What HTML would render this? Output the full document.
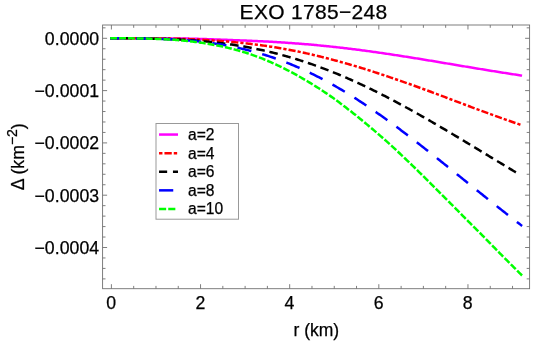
<!DOCTYPE html>
<html><head><meta charset="utf-8"><style>
html,body{margin:0;padding:0;background:#fff;}
svg{display:block;will-change:transform;font-family:"Liberation Sans",sans-serif;}
text{fill:#000;stroke:#000;stroke-width:0.25px;}
</style></head><body>
<svg width="556" height="346" viewBox="0 0 556 346">
<rect width="556" height="346" fill="#fff"/>
<g stroke-linecap="butt" stroke-linejoin="round">
<polyline points="110.20,38.30 111.40,38.30 112.77,38.30 114.15,38.30 115.52,38.30 116.89,38.30 118.27,38.30 119.64,38.30 121.02,38.30 122.39,38.30 123.76,38.30 125.14,38.30 126.51,38.30 127.88,38.30 129.26,38.31 130.63,38.31 132.00,38.31 133.38,38.31 134.75,38.31 136.12,38.31 137.50,38.31 138.87,38.31 140.25,38.32 141.62,38.32 142.99,38.32 144.37,38.32 145.74,38.33 147.11,38.33 148.49,38.33 149.86,38.34 151.23,38.34 152.61,38.34 153.98,38.35 155.35,38.35 156.73,38.36 158.10,38.36 159.48,38.37 160.85,38.37 162.22,38.38 163.60,38.39 164.97,38.39 166.34,38.40 167.72,38.41 169.09,38.42 170.46,38.42 171.84,38.43 173.21,38.44 174.58,38.45 175.96,38.46 177.33,38.47 178.71,38.48 180.08,38.50 181.45,38.51 182.83,38.53 184.20,38.55 185.57,38.57 186.95,38.59 188.32,38.62 189.69,38.65 191.07,38.68 192.44,38.71 193.81,38.74 195.19,38.77 196.56,38.81 197.94,38.85 199.31,38.89 200.68,38.93 202.06,38.97 203.43,39.01 204.80,39.05 206.18,39.10 207.55,39.14 208.92,39.19 210.30,39.24 211.67,39.29 213.04,39.34 214.42,39.39 215.79,39.44 217.17,39.49 218.54,39.54 219.91,39.60 221.29,39.65 222.66,39.70 224.03,39.76 225.41,39.81 226.78,39.87 228.15,39.92 229.53,39.97 230.90,40.03 232.27,40.08 233.65,40.14 235.02,40.19 236.40,40.25 237.77,40.30 239.14,40.35 240.52,40.41 241.89,40.46 243.26,40.51 244.64,40.56 246.01,40.62 247.38,40.67 248.76,40.72 250.13,40.78 251.51,40.83 252.88,40.89 254.25,40.95 255.63,41.01 257.00,41.07 258.37,41.13 259.75,41.20 261.12,41.26 262.49,41.33 263.87,41.40 265.24,41.47 266.61,41.54 267.99,41.61 269.36,41.69 270.74,41.76 272.11,41.84 273.48,41.92 274.86,42.00 276.23,42.08 277.60,42.16 278.98,42.25 280.35,42.33 281.72,42.42 283.10,42.51 284.47,42.60 285.84,42.69 287.22,42.78 288.59,42.88 289.97,42.97 291.34,43.07 292.71,43.17 294.09,43.27 295.46,43.38 296.83,43.48 298.21,43.59 299.58,43.69 300.95,43.80 302.33,43.91 303.70,44.03 305.07,44.14 306.45,44.26 307.82,44.37 309.20,44.49 310.57,44.61 311.94,44.74 313.32,44.86 314.69,44.99 316.06,45.11 317.44,45.24 318.81,45.37 320.18,45.51 321.56,45.64 322.93,45.78 324.30,45.91 325.68,46.05 327.05,46.19 328.43,46.33 329.80,46.48 331.17,46.62 332.55,46.77 333.92,46.92 335.29,47.07 336.67,47.22 338.04,47.37 339.41,47.53 340.79,47.69 342.16,47.84 343.53,48.00 344.91,48.16 346.28,48.33 347.66,48.49 349.03,48.66 350.40,48.82 351.78,48.99 353.15,49.16 354.52,49.34 355.90,49.51 357.27,49.68 358.64,49.86 360.02,50.04 361.39,50.22 362.76,50.40 364.14,50.58 365.51,50.76 366.89,50.95 368.26,51.13 369.63,51.32 371.01,51.51 372.38,51.70 373.75,51.89 375.13,52.08 376.50,52.28 377.87,52.47 379.25,52.67 380.62,52.87 381.99,53.07 383.37,53.27 384.74,53.47 386.12,53.67 387.49,53.87 388.86,54.08 390.24,54.28 391.61,54.49 392.98,54.70 394.36,54.91 395.73,55.12 397.10,55.33 398.48,55.54 399.85,55.75 401.23,55.96 402.60,56.18 403.97,56.39 405.35,56.61 406.72,56.83 408.09,57.05 409.47,57.26 410.84,57.48 412.21,57.70 413.59,57.92 414.96,58.15 416.33,58.37 417.71,58.59 419.08,58.81 420.46,59.04 421.83,59.26 423.20,59.49 424.58,59.71 425.95,59.94 427.32,60.17 428.70,60.40 430.07,60.62 431.44,60.85 432.82,61.08 434.19,61.31 435.56,61.54 436.94,61.77 438.31,62.00 439.69,62.23 441.06,62.46 442.43,62.69 443.81,62.92 445.18,63.15 446.55,63.39 447.93,63.62 449.30,63.85 450.67,64.08 452.05,64.31 453.42,64.54 454.79,64.77 456.17,65.00 457.54,65.24 458.92,65.47 460.29,65.70 461.66,65.93 463.04,66.16 464.41,66.39 465.78,66.61 467.16,66.84 468.53,67.07 469.90,67.30 471.28,67.53 472.65,67.76 474.02,67.98 475.40,68.21 476.77,68.44 478.15,68.66 479.52,68.89 480.89,69.12 482.27,69.34 483.64,69.56 485.01,69.79 486.39,70.01 487.76,70.24 489.13,70.46 490.51,70.68 491.88,70.90 493.25,71.12 494.63,71.34 496.00,71.56 497.38,71.78 498.75,72.00 500.12,72.22 501.50,72.44 502.87,72.66 504.24,72.87 505.62,73.09 506.99,73.30 508.36,73.52 509.74,73.73 511.11,73.95 512.48,74.16 513.86,74.37 515.23,74.58 516.61,74.80 517.98,75.01 519.35,75.22 520.73,75.42 522.10,75.63" fill="none" stroke="#ff00ff" stroke-width="2.5"/>
<polyline points="110.20,38.30 111.40,38.30 112.77,38.30 114.15,38.30 115.52,38.30 116.89,38.30 118.27,38.30 119.64,38.30 121.02,38.30 122.39,38.30 123.76,38.30 125.14,38.30 126.51,38.31 127.88,38.31 129.26,38.31 130.63,38.31 132.00,38.31 133.38,38.32 134.75,38.32 136.12,38.32 137.50,38.33 138.87,38.33 140.25,38.34 141.62,38.34 142.99,38.35 144.37,38.36 145.74,38.36 147.11,38.37 148.49,38.38 149.86,38.39 151.23,38.40 152.61,38.41 153.98,38.42 155.35,38.44 156.73,38.45 158.10,38.46 159.48,38.48 160.85,38.50 162.22,38.51 163.60,38.53 164.97,38.55 166.34,38.57 167.72,38.59 169.09,38.62 170.46,38.64 171.84,38.67 173.21,38.69 174.58,38.72 175.96,38.75 177.33,38.78 178.71,38.81 180.08,38.85 181.45,38.88 182.83,38.92 184.20,38.97 185.57,39.01 186.95,39.06 188.32,39.11 189.69,39.16 191.07,39.21 192.44,39.27 193.81,39.33 195.19,39.39 196.56,39.46 197.94,39.52 199.31,39.59 200.68,39.66 202.06,39.74 203.43,39.81 204.80,39.89 206.18,39.97 207.55,40.06 208.92,40.14 210.30,40.23 211.67,40.32 213.04,40.42 214.42,40.51 215.79,40.61 217.17,40.71 218.54,40.82 219.91,40.92 221.29,41.03 222.66,41.14 224.03,41.25 225.41,41.37 226.78,41.49 228.15,41.61 229.53,41.73 230.90,41.86 232.27,41.98 233.65,42.11 235.02,42.24 236.40,42.38 237.77,42.52 239.14,42.65 240.52,42.80 241.89,42.94 243.26,43.08 244.64,43.23 246.01,43.38 247.38,43.54 248.76,43.69 250.13,43.85 251.51,44.02 252.88,44.18 254.25,44.35 255.63,44.53 257.00,44.70 258.37,44.88 259.75,45.06 261.12,45.25 262.49,45.44 263.87,45.63 265.24,45.83 266.61,46.03 267.99,46.23 269.36,46.44 270.74,46.65 272.11,46.86 273.48,47.08 274.86,47.30 276.23,47.52 277.60,47.75 278.98,47.98 280.35,48.22 281.72,48.46 283.10,48.70 284.47,48.94 285.84,49.19 287.22,49.44 288.59,49.70 289.97,49.96 291.34,50.22 292.71,50.49 294.09,50.76 295.46,51.03 296.83,51.31 298.21,51.59 299.58,51.87 300.95,52.16 302.33,52.45 303.70,52.75 305.07,53.04 306.45,53.35 307.82,53.65 309.20,53.96 310.57,54.27 311.94,54.59 313.32,54.91 314.69,55.23 316.06,55.56 317.44,55.88 318.81,56.22 320.18,56.55 321.56,56.89 322.93,57.24 324.30,57.58 325.68,57.93 327.05,58.28 328.43,58.64 329.80,59.00 331.17,59.36 332.55,59.72 333.92,60.09 335.29,60.46 336.67,60.83 338.04,61.21 339.41,61.58 340.79,61.96 342.16,62.35 343.53,62.73 344.91,63.12 346.28,63.51 347.66,63.90 349.03,64.30 350.40,64.70 351.78,65.10 353.15,65.50 354.52,65.91 355.90,66.32 357.27,66.73 358.64,67.14 360.02,67.56 361.39,67.98 362.76,68.40 364.14,68.82 365.51,69.25 366.89,69.68 368.26,70.11 369.63,70.55 371.01,70.99 372.38,71.43 373.75,71.87 375.13,72.32 376.50,72.77 377.87,73.22 379.25,73.67 380.62,74.13 381.99,74.58 383.37,75.04 384.74,75.50 386.12,75.96 387.49,76.42 388.86,76.89 390.24,77.36 391.61,77.82 392.98,78.29 394.36,78.76 395.73,79.24 397.10,79.71 398.48,80.18 399.85,80.66 401.23,81.14 402.60,81.62 403.97,82.10 405.35,82.58 406.72,83.07 408.09,83.55 409.47,84.04 410.84,84.53 412.21,85.02 413.59,85.51 414.96,86.01 416.33,86.50 417.71,87.00 419.08,87.50 420.46,87.99 421.83,88.50 423.20,89.00 424.58,89.50 425.95,90.01 427.32,90.51 428.70,91.02 430.07,91.53 431.44,92.04 432.82,92.55 434.19,93.07 435.56,93.58 436.94,94.10 438.31,94.61 439.69,95.13 441.06,95.65 442.43,96.17 443.81,96.68 445.18,97.20 446.55,97.72 447.93,98.24 449.30,98.76 450.67,99.28 452.05,99.80 453.42,100.32 454.79,100.84 456.17,101.36 457.54,101.88 458.92,102.40 460.29,102.92 461.66,103.43 463.04,103.95 464.41,104.47 465.78,104.99 467.16,105.50 468.53,106.02 469.90,106.53 471.28,107.05 472.65,107.56 474.02,108.07 475.40,108.58 476.77,109.09 478.15,109.60 479.52,110.11 480.89,110.62 482.27,111.13 483.64,111.63 485.01,112.14 486.39,112.64 487.76,113.14 489.13,113.65 490.51,114.15 491.88,114.65 493.25,115.15 494.63,115.64 496.00,116.14 497.38,116.64 498.75,117.13 500.12,117.62 501.50,118.12 502.87,118.61 504.24,119.10 505.62,119.58 506.99,120.07 508.36,120.56 509.74,121.04 511.11,121.52 512.48,122.00 513.86,122.48 515.23,122.96 516.61,123.44 517.98,123.91 519.35,124.39 520.73,124.86 522.10,125.33" fill="none" stroke="#ff0000" stroke-width="2.5" stroke-dasharray="3.210 2.057 7.153 2.057"/>
<polyline points="110.20,38.30 111.40,38.30 112.75,38.30 114.11,38.30 115.46,38.30 116.81,38.31 118.16,38.31 119.52,38.31 120.87,38.31 122.22,38.31 123.58,38.32 124.93,38.32 126.28,38.33 127.63,38.33 128.99,38.34 130.34,38.35 131.69,38.35 133.05,38.36 134.40,38.37 135.75,38.38 137.10,38.39 138.46,38.41 139.81,38.42 141.16,38.43 142.52,38.45 143.87,38.47 145.22,38.49 146.57,38.51 147.93,38.53 149.28,38.55 150.63,38.58 151.99,38.60 153.34,38.63 154.69,38.66 156.04,38.69 157.40,38.72 158.75,38.76 160.10,38.80 161.46,38.84 162.81,38.88 164.16,38.92 165.51,38.96 166.87,39.01 168.22,39.06 169.57,39.11 170.93,39.16 172.28,39.22 173.63,39.28 174.98,39.34 176.34,39.40 177.69,39.47 179.04,39.53 180.39,39.61 181.75,39.68 183.10,39.75 184.45,39.83 185.81,39.91 187.16,40.00 188.51,40.09 189.86,40.18 191.22,40.27 192.57,40.36 193.92,40.46 195.28,40.56 196.63,40.67 197.98,40.78 199.33,40.89 200.69,41.00 202.04,41.12 203.39,41.24 204.75,41.37 206.10,41.49 207.45,41.62 208.80,41.76 210.16,41.90 211.51,42.04 212.86,42.18 214.22,42.33 215.57,42.48 216.92,42.64 218.27,42.80 219.63,42.96 220.98,43.13 222.33,43.30 223.69,43.48 225.04,43.66 226.39,43.84 227.74,44.02 229.10,44.22 230.45,44.41 231.80,44.61 233.16,44.81 234.51,45.02 235.86,45.23 237.21,45.44 238.57,45.66 239.92,45.89 241.27,46.11 242.63,46.34 243.98,46.58 245.33,46.82 246.68,47.07 248.04,47.31 249.39,47.57 250.74,47.82 252.10,48.09 253.45,48.35 254.80,48.62 256.15,48.90 257.51,49.18 258.86,49.46 260.21,49.75 261.57,50.05 262.92,50.34 264.27,50.65 265.62,50.95 266.98,51.27 268.33,51.58 269.68,51.90 271.04,52.23 272.39,52.56 273.74,52.89 275.09,53.23 276.45,53.58 277.80,53.93 279.15,54.28 280.51,54.64 281.86,55.00 283.21,55.37 284.56,55.74 285.92,56.12 287.27,56.50 288.62,56.89 289.98,57.28 291.33,57.68 292.68,58.08 294.03,58.48 295.39,58.90 296.74,59.31 298.09,59.73 299.45,60.16 300.80,60.59 302.15,61.02 303.50,61.46 304.86,61.90 306.21,62.35 307.56,62.81 308.92,63.26 310.27,63.73 311.62,64.19 312.97,64.67 314.33,65.14 315.68,65.63 317.03,66.11 318.38,66.60 319.74,67.10 321.09,67.60 322.44,68.11 323.80,68.61 325.15,69.13 326.50,69.65 327.85,70.17 329.21,70.70 330.56,71.23 331.91,71.77 333.27,72.31 334.62,72.86 335.97,73.41 337.32,73.96 338.68,74.52 340.03,75.08 341.38,75.65 342.74,76.23 344.09,76.80 345.44,77.38 346.79,77.97 348.15,78.56 349.50,79.15 350.85,79.75 352.21,80.35 353.56,80.96 354.91,81.57 356.26,82.18 357.62,82.80 358.97,83.42 360.32,84.05 361.68,84.68 363.03,85.32 364.38,85.95 365.73,86.60 367.09,87.24 368.44,87.89 369.79,88.55 371.15,89.20 372.50,89.87 373.85,90.53 375.20,91.20 376.56,91.87 377.91,92.55 379.26,93.22 380.62,93.91 381.97,94.59 383.32,95.28 384.67,95.98 386.03,96.67 387.38,97.37 388.73,98.07 390.09,98.78 391.44,99.49 392.79,100.20 394.14,100.91 395.50,101.63 396.85,102.35 398.20,103.08 399.56,103.81 400.91,104.54 402.26,105.27 403.61,106.00 404.97,106.74 406.32,107.48 407.67,108.23 409.03,108.97 410.38,109.72 411.73,110.47 413.08,111.23 414.44,111.98 415.79,112.74 417.14,113.50 418.50,114.26 419.85,115.03 421.20,115.80 422.55,116.57 423.91,117.34 425.26,118.11 426.61,118.89 427.97,119.67 429.32,120.45 430.67,121.23 432.02,122.01 433.38,122.80 434.73,123.59 436.08,124.37 437.44,125.16 438.79,125.96 440.14,126.75 441.49,127.55 442.85,128.34 444.20,129.14 445.55,129.94 446.91,130.74 448.26,131.54 449.61,132.35 450.96,133.15 452.32,133.96 453.67,134.76 455.02,135.57 456.37,136.38 457.73,137.19 459.08,138.00 460.43,138.81 461.79,139.63 463.14,140.44 464.49,141.25 465.84,142.07 467.20,142.88 468.55,143.70 469.90,144.52 471.26,145.33 472.61,146.15 473.96,146.97 475.31,147.79 476.67,148.61 478.02,149.43 479.37,150.25 480.73,151.07 482.08,151.89 483.43,152.71 484.78,153.53 486.14,154.35 487.49,155.17 488.84,155.99 490.20,156.81 491.55,157.63 492.90,158.45 494.25,159.27 495.61,160.09 496.96,160.91 498.31,161.73 499.67,162.55 501.02,163.37 502.37,164.19 503.72,165.01 505.08,165.82 506.43,166.64 507.78,167.46 509.14,168.27 510.49,169.09 511.84,169.90 513.19,170.72 514.55,171.53 515.90,172.34" fill="none" stroke="#000000" stroke-width="2.5" stroke-dasharray="8.574 4.776"/>
<polyline points="110.20,38.30 111.40,38.30 112.77,38.30 114.15,38.30 115.52,38.30 116.89,38.30 118.27,38.30 119.64,38.31 121.02,38.31 122.39,38.31 123.76,38.31 125.14,38.32 126.51,38.32 127.88,38.33 129.26,38.33 130.63,38.34 132.00,38.35 133.38,38.36 134.75,38.37 136.12,38.38 137.50,38.39 138.87,38.41 140.25,38.42 141.62,38.44 142.99,38.46 144.37,38.48 145.74,38.50 147.11,38.53 148.49,38.55 149.86,38.58 151.23,38.61 152.61,38.65 153.98,38.68 155.35,38.72 156.73,38.76 158.10,38.80 159.48,38.84 160.85,38.89 162.22,38.94 163.60,38.99 164.97,39.04 166.34,39.10 167.72,39.16 169.09,39.22 170.46,39.29 171.84,39.36 173.21,39.43 174.58,39.51 175.96,39.59 177.33,39.67 178.71,39.76 180.08,39.85 181.45,39.94 182.83,40.04 184.20,40.14 185.57,40.25 186.95,40.35 188.32,40.47 189.69,40.59 191.07,40.71 192.44,40.83 193.81,40.96 195.19,41.10 196.56,41.24 197.94,41.38 199.31,41.53 200.68,41.68 202.06,41.84 203.43,42.00 204.80,42.17 206.18,42.34 207.55,42.52 208.92,42.70 210.30,42.89 211.67,43.08 213.04,43.28 214.42,43.48 215.79,43.69 217.17,43.90 218.54,44.12 219.91,44.34 221.29,44.57 222.66,44.80 224.03,45.04 225.41,45.29 226.78,45.54 228.15,45.80 229.53,46.06 230.90,46.33 232.27,46.60 233.65,46.88 235.02,47.17 236.40,47.46 237.77,47.76 239.14,48.06 240.52,48.37 241.89,48.68 243.26,49.01 244.64,49.33 246.01,49.67 247.38,50.01 248.76,50.36 250.13,50.71 251.51,51.07 252.88,51.44 254.25,51.81 255.63,52.19 257.00,52.58 258.37,52.97 259.75,53.37 261.12,53.78 262.49,54.19 263.87,54.61 265.24,55.04 266.61,55.48 267.99,55.92 269.36,56.37 270.74,56.82 272.11,57.28 273.48,57.75 274.86,58.23 276.23,58.71 277.60,59.20 278.98,59.70 280.35,60.21 281.72,60.72 283.10,61.24 284.47,61.76 285.84,62.29 287.22,62.83 288.59,63.38 289.97,63.94 291.34,64.50 292.71,65.07 294.09,65.64 295.46,66.23 296.83,66.82 298.21,67.41 299.58,68.02 300.95,68.63 302.33,69.25 303.70,69.87 305.07,70.50 306.45,71.14 307.82,71.79 309.20,72.45 310.57,73.11 311.94,73.77 313.32,74.45 314.69,75.13 316.06,75.82 317.44,76.51 318.81,77.22 320.18,77.93 321.56,78.64 322.93,79.37 324.30,80.10 325.68,80.83 327.05,81.58 328.43,82.33 329.80,83.08 331.17,83.85 332.55,84.62 333.92,85.39 335.29,86.18 336.67,86.97 338.04,87.76 339.41,88.56 340.79,89.37 342.16,90.19 343.53,91.01 344.91,91.84 346.28,92.67 347.66,93.51 349.03,94.36 350.40,95.21 351.78,96.07 353.15,96.93 354.52,97.80 355.90,98.67 357.27,99.56 358.64,100.44 360.02,101.33 361.39,102.23 362.76,103.14 364.14,104.04 365.51,104.96 366.89,105.88 368.26,106.80 369.63,107.73 371.01,108.67 372.38,109.61 373.75,110.55 375.13,111.50 376.50,112.46 377.87,113.42 379.25,114.38 380.62,115.35 381.99,116.32 383.37,117.30 384.74,118.28 386.12,119.27 387.49,120.26 388.86,121.26 390.24,122.26 391.61,123.26 392.98,124.27 394.36,125.28 395.73,126.29 397.10,127.31 398.48,128.34 399.85,129.36 401.23,130.39 402.60,131.42 403.97,132.46 405.35,133.50 406.72,134.54 408.09,135.59 409.47,136.64 410.84,137.69 412.21,138.75 413.59,139.80 414.96,140.87 416.33,141.93 417.71,142.99 419.08,144.06 420.46,145.13 421.83,146.21 423.20,147.28 424.58,148.36 425.95,149.44 427.32,150.52 428.70,151.60 430.07,152.69 431.44,153.78 432.82,154.87 434.19,155.96 435.56,157.05 436.94,158.14 438.31,159.24 439.69,160.34 441.06,161.43 442.43,162.53 443.81,163.63 445.18,164.73 446.55,165.84 447.93,166.94 449.30,168.04 450.67,169.15 452.05,170.25 453.42,171.36 454.79,172.46 456.17,173.57 457.54,174.68 458.92,175.78 460.29,176.89 461.66,178.00 463.04,179.11 464.41,180.21 465.78,181.32 467.16,182.43 468.53,183.54 469.90,184.64 471.28,185.75 472.65,186.86 474.02,187.96 475.40,189.07 476.77,190.17 478.15,191.28 479.52,192.38 480.89,193.48 482.27,194.59 483.64,195.69 485.01,196.79 486.39,197.89 487.76,198.98 489.13,200.08 490.51,201.18 491.88,202.27 493.25,203.36 494.63,204.45 496.00,205.55 497.38,206.63 498.75,207.72 500.12,208.81 501.50,209.89 502.87,210.97 504.24,212.05 505.62,213.13 506.99,214.21 508.36,215.28 509.74,216.36 511.11,217.43 512.48,218.50 513.86,219.57 515.23,220.63 516.61,221.69 517.98,222.75 519.35,223.81 520.73,224.87 522.10,225.92" fill="none" stroke="#0000ff" stroke-width="2.5" stroke-dasharray="14.292 11.283"/>
<polyline points="110.20,38.30 111.40,38.30 112.77,38.30 114.15,38.30 115.52,38.30 116.89,38.30 118.27,38.30 119.64,38.31 121.02,38.31 122.39,38.31 123.76,38.32 125.14,38.32 126.51,38.33 127.88,38.34 129.26,38.34 130.63,38.35 132.00,38.36 133.38,38.38 134.75,38.39 136.12,38.41 137.50,38.42 138.87,38.44 140.25,38.46 141.62,38.49 142.99,38.51 144.37,38.54 145.74,38.57 147.11,38.60 148.49,38.63 149.86,38.67 151.23,38.71 152.61,38.75 153.98,38.80 155.35,38.85 156.73,38.90 158.10,38.95 159.48,39.01 160.85,39.07 162.22,39.13 163.60,39.20 164.97,39.27 166.34,39.34 167.72,39.42 169.09,39.51 170.46,39.59 171.84,39.68 173.21,39.78 174.58,39.87 175.96,39.98 177.33,40.08 178.71,40.19 180.08,40.31 181.45,40.43 182.83,40.56 184.20,40.69 185.57,40.82 186.95,40.96 188.32,41.10 189.69,41.25 191.07,41.41 192.44,41.57 193.81,41.73 195.19,41.90 196.56,42.08 197.94,42.26 199.31,42.45 200.68,42.64 202.06,42.84 203.43,43.05 204.80,43.26 206.18,43.48 207.55,43.70 208.92,43.93 210.30,44.17 211.67,44.41 213.04,44.66 214.42,44.92 215.79,45.18 217.17,45.45 218.54,45.72 219.91,46.01 221.29,46.30 222.66,46.59 224.03,46.90 225.41,47.21 226.78,47.53 228.15,47.85 229.53,48.19 230.90,48.53 232.27,48.87 233.65,49.23 235.02,49.59 236.40,49.96 237.77,50.34 239.14,50.73 240.52,51.12 241.89,51.52 243.26,51.93 244.64,52.35 246.01,52.78 247.38,53.22 248.76,53.66 250.13,54.12 251.51,54.59 252.88,55.07 254.25,55.56 255.63,56.06 257.00,56.57 258.37,57.09 259.75,57.62 261.12,58.16 262.49,58.71 263.87,59.26 265.24,59.83 266.61,60.40 267.99,60.99 269.36,61.58 270.74,62.18 272.11,62.78 273.48,63.40 274.86,64.02 276.23,64.65 277.60,65.29 278.98,65.94 280.35,66.59 281.72,67.26 283.10,67.94 284.47,68.63 285.84,69.33 287.22,70.03 288.59,70.75 289.97,71.47 291.34,72.20 292.71,72.94 294.09,73.69 295.46,74.44 296.83,75.21 298.21,75.98 299.58,76.75 300.95,77.53 302.33,78.32 303.70,79.12 305.07,79.92 306.45,80.72 307.82,81.53 309.20,82.35 310.57,83.18 311.94,84.01 313.32,84.85 314.69,85.71 316.06,86.57 317.44,87.44 318.81,88.32 320.18,89.20 321.56,90.10 322.93,91.00 324.30,91.92 325.68,92.84 327.05,93.77 328.43,94.71 329.80,95.65 331.17,96.61 332.55,97.58 333.92,98.57 335.29,99.56 336.67,100.57 338.04,101.59 339.41,102.62 340.79,103.65 342.16,104.69 343.53,105.73 344.91,106.78 346.28,107.84 347.66,108.89 349.03,109.95 350.40,111.01 351.78,112.09 353.15,113.17 354.52,114.25 355.90,115.35 357.27,116.45 358.64,117.56 360.02,118.68 361.39,119.80 362.76,120.93 364.14,122.07 365.51,123.21 366.89,124.36 368.26,125.52 369.63,126.67 371.01,127.83 372.38,129.00 373.75,130.17 375.13,131.34 376.50,132.52 377.87,133.71 379.25,134.90 380.62,136.09 381.99,137.29 383.37,138.50 384.74,139.71 386.12,140.93 387.49,142.16 388.86,143.39 390.24,144.63 391.61,145.88 392.98,147.14 394.36,148.40 395.73,149.67 397.10,150.95 398.48,152.24 399.85,153.53 401.23,154.82 402.60,156.12 403.97,157.42 405.35,158.73 406.72,160.04 408.09,161.36 409.47,162.68 410.84,164.01 412.21,165.34 413.59,166.67 414.96,168.01 416.33,169.35 417.71,170.69 419.08,172.04 420.46,173.39 421.83,174.74 423.20,176.10 424.58,177.46 425.95,178.82 427.32,180.19 428.70,181.56 430.07,182.93 431.44,184.30 432.82,185.68 434.19,187.05 435.56,188.42 436.94,189.80 438.31,191.17 439.69,192.55 441.06,193.93 442.43,195.30 443.81,196.68 445.18,198.06 446.55,199.43 447.93,200.81 449.30,202.19 450.67,203.57 452.05,204.95 453.42,206.33 454.79,207.71 456.17,209.10 457.54,210.48 458.92,211.86 460.29,213.25 461.66,214.63 463.04,216.02 464.41,217.40 465.78,218.79 467.16,220.18 468.53,221.57 469.90,222.95 471.28,224.33 472.65,225.71 474.02,227.09 475.40,228.46 476.77,229.84 478.15,231.21 479.52,232.59 480.89,233.96 482.27,235.35 483.64,236.73 485.01,238.12 486.39,239.51 487.76,240.91 489.13,242.32 490.51,243.72 491.88,245.13 493.25,246.53 494.63,247.93 496.00,249.33 497.38,250.72 498.75,252.12 500.12,253.52 501.50,254.91 502.87,256.30 504.24,257.69 505.62,259.08 506.99,260.47 508.36,261.85 509.74,263.23 511.11,264.61 512.48,265.99 513.86,267.37 515.23,268.74 516.61,270.11 517.98,271.48 519.35,272.85 520.73,274.21 522.10,275.57" fill="none" stroke="#00ff00" stroke-width="2.5" stroke-dasharray="6.905 1.973"/>
</g>
<rect x="102.6" y="25.0" width="427.00" height="263.70" fill="none" stroke="#707070" stroke-width="0.9"/>
<g stroke="#707070" stroke-width="0.9">
<line x1="111.40" y1="288.7" x2="111.40" y2="284.2"/>
<line x1="111.40" y1="25.0" x2="111.40" y2="29.5"/>
<line x1="133.69" y1="288.7" x2="133.69" y2="285.9"/>
<line x1="133.69" y1="25.0" x2="133.69" y2="27.8"/>
<line x1="155.97" y1="288.7" x2="155.97" y2="285.9"/>
<line x1="155.97" y1="25.0" x2="155.97" y2="27.8"/>
<line x1="178.25" y1="288.7" x2="178.25" y2="285.9"/>
<line x1="178.25" y1="25.0" x2="178.25" y2="27.8"/>
<line x1="200.54" y1="288.7" x2="200.54" y2="284.2"/>
<line x1="200.54" y1="25.0" x2="200.54" y2="29.5"/>
<line x1="222.82" y1="288.7" x2="222.82" y2="285.9"/>
<line x1="222.82" y1="25.0" x2="222.82" y2="27.8"/>
<line x1="245.11" y1="288.7" x2="245.11" y2="285.9"/>
<line x1="245.11" y1="25.0" x2="245.11" y2="27.8"/>
<line x1="267.39" y1="288.7" x2="267.39" y2="285.9"/>
<line x1="267.39" y1="25.0" x2="267.39" y2="27.8"/>
<line x1="289.68" y1="288.7" x2="289.68" y2="284.2"/>
<line x1="289.68" y1="25.0" x2="289.68" y2="29.5"/>
<line x1="311.97" y1="288.7" x2="311.97" y2="285.9"/>
<line x1="311.97" y1="25.0" x2="311.97" y2="27.8"/>
<line x1="334.25" y1="288.7" x2="334.25" y2="285.9"/>
<line x1="334.25" y1="25.0" x2="334.25" y2="27.8"/>
<line x1="356.53" y1="288.7" x2="356.53" y2="285.9"/>
<line x1="356.53" y1="25.0" x2="356.53" y2="27.8"/>
<line x1="378.82" y1="288.7" x2="378.82" y2="284.2"/>
<line x1="378.82" y1="25.0" x2="378.82" y2="29.5"/>
<line x1="401.11" y1="288.7" x2="401.11" y2="285.9"/>
<line x1="401.11" y1="25.0" x2="401.11" y2="27.8"/>
<line x1="423.39" y1="288.7" x2="423.39" y2="285.9"/>
<line x1="423.39" y1="25.0" x2="423.39" y2="27.8"/>
<line x1="445.67" y1="288.7" x2="445.67" y2="285.9"/>
<line x1="445.67" y1="25.0" x2="445.67" y2="27.8"/>
<line x1="467.96" y1="288.7" x2="467.96" y2="284.2"/>
<line x1="467.96" y1="25.0" x2="467.96" y2="29.5"/>
<line x1="490.25" y1="288.7" x2="490.25" y2="285.9"/>
<line x1="490.25" y1="25.0" x2="490.25" y2="27.8"/>
<line x1="512.53" y1="288.7" x2="512.53" y2="285.9"/>
<line x1="512.53" y1="25.0" x2="512.53" y2="27.8"/>
<line x1="102.6" y1="27.84" x2="105.5" y2="27.84"/>
<line x1="529.6" y1="27.84" x2="526.7" y2="27.84"/>
<line x1="102.6" y1="38.30" x2="107.1" y2="38.30"/>
<line x1="529.6" y1="38.30" x2="525.1" y2="38.30"/>
<line x1="102.6" y1="48.76" x2="105.5" y2="48.76"/>
<line x1="529.6" y1="48.76" x2="526.7" y2="48.76"/>
<line x1="102.6" y1="59.22" x2="105.5" y2="59.22"/>
<line x1="529.6" y1="59.22" x2="526.7" y2="59.22"/>
<line x1="102.6" y1="69.68" x2="105.5" y2="69.68"/>
<line x1="529.6" y1="69.68" x2="526.7" y2="69.68"/>
<line x1="102.6" y1="80.14" x2="105.5" y2="80.14"/>
<line x1="529.6" y1="80.14" x2="526.7" y2="80.14"/>
<line x1="102.6" y1="90.60" x2="107.1" y2="90.60"/>
<line x1="529.6" y1="90.60" x2="525.1" y2="90.60"/>
<line x1="102.6" y1="101.06" x2="105.5" y2="101.06"/>
<line x1="529.6" y1="101.06" x2="526.7" y2="101.06"/>
<line x1="102.6" y1="111.52" x2="105.5" y2="111.52"/>
<line x1="529.6" y1="111.52" x2="526.7" y2="111.52"/>
<line x1="102.6" y1="121.98" x2="105.5" y2="121.98"/>
<line x1="529.6" y1="121.98" x2="526.7" y2="121.98"/>
<line x1="102.6" y1="132.44" x2="105.5" y2="132.44"/>
<line x1="529.6" y1="132.44" x2="526.7" y2="132.44"/>
<line x1="102.6" y1="142.90" x2="107.1" y2="142.90"/>
<line x1="529.6" y1="142.90" x2="525.1" y2="142.90"/>
<line x1="102.6" y1="153.36" x2="105.5" y2="153.36"/>
<line x1="529.6" y1="153.36" x2="526.7" y2="153.36"/>
<line x1="102.6" y1="163.82" x2="105.5" y2="163.82"/>
<line x1="529.6" y1="163.82" x2="526.7" y2="163.82"/>
<line x1="102.6" y1="174.28" x2="105.5" y2="174.28"/>
<line x1="529.6" y1="174.28" x2="526.7" y2="174.28"/>
<line x1="102.6" y1="184.74" x2="105.5" y2="184.74"/>
<line x1="529.6" y1="184.74" x2="526.7" y2="184.74"/>
<line x1="102.6" y1="195.20" x2="107.1" y2="195.20"/>
<line x1="529.6" y1="195.20" x2="525.1" y2="195.20"/>
<line x1="102.6" y1="205.66" x2="105.5" y2="205.66"/>
<line x1="529.6" y1="205.66" x2="526.7" y2="205.66"/>
<line x1="102.6" y1="216.12" x2="105.5" y2="216.12"/>
<line x1="529.6" y1="216.12" x2="526.7" y2="216.12"/>
<line x1="102.6" y1="226.58" x2="105.5" y2="226.58"/>
<line x1="529.6" y1="226.58" x2="526.7" y2="226.58"/>
<line x1="102.6" y1="237.04" x2="105.5" y2="237.04"/>
<line x1="529.6" y1="237.04" x2="526.7" y2="237.04"/>
<line x1="102.6" y1="247.50" x2="107.1" y2="247.50"/>
<line x1="529.6" y1="247.50" x2="525.1" y2="247.50"/>
<line x1="102.6" y1="257.96" x2="105.5" y2="257.96"/>
<line x1="529.6" y1="257.96" x2="526.7" y2="257.96"/>
<line x1="102.6" y1="268.42" x2="105.5" y2="268.42"/>
<line x1="529.6" y1="268.42" x2="526.7" y2="268.42"/>
<line x1="102.6" y1="278.88" x2="105.5" y2="278.88"/>
<line x1="529.6" y1="278.88" x2="526.7" y2="278.88"/>
</g>
<g>
<text x="111.20" y="308.9" text-anchor="middle" font-size="17.7">0</text>
<text x="200.34" y="308.9" text-anchor="middle" font-size="17.7">2</text>
<text x="289.48" y="308.9" text-anchor="middle" font-size="17.7">4</text>
<text x="378.62" y="308.9" text-anchor="middle" font-size="17.7">6</text>
<text x="467.76" y="308.9" text-anchor="middle" font-size="17.7">8</text>
<text x="99.2" y="44.80" text-anchor="end" font-size="17.7" letter-spacing="0.05">0.0000</text>
<text x="99.2" y="97.10" text-anchor="end" font-size="17.7" letter-spacing="0.05">−0.0001</text>
<text x="99.2" y="149.40" text-anchor="end" font-size="17.7" letter-spacing="0.05">−0.0002</text>
<text x="99.2" y="201.70" text-anchor="end" font-size="17.7" letter-spacing="0.05">−0.0003</text>
<text x="99.2" y="254.00" text-anchor="end" font-size="17.7" letter-spacing="0.05">−0.0004</text>
</g>
<text x="313.5" y="19.1" text-anchor="middle" font-size="21" letter-spacing="0.3">EXO 1785−248</text>
<text x="316.3" y="335.7" text-anchor="middle" font-size="17.5">r (km)</text>
<text transform="translate(24.2,156.8) rotate(-90)" text-anchor="middle" font-size="17.7">Δ (km<tspan dy="-7.2" font-size="14">−2</tspan><tspan dy="7.2">)</tspan></text>
<rect x="156" y="123.5" width="82.5" height="95.7" fill="#fff" stroke="#999" stroke-width="1"/>
<line x1="159.05" y1="134.55" x2="178" y2="134.55" stroke="#ff00ff" stroke-width="2.5"/>
<text x="188.1" y="139.95" font-size="15.6">a=2</text>
<line x1="159.05" y1="153.15" x2="178" y2="153.15" stroke="#ff0000" stroke-width="2.5" stroke-dasharray="3.4 2 7.3 2"/>
<text x="188.1" y="158.55" font-size="15.6">a=4</text>
<line x1="159.05" y1="171.75" x2="178" y2="171.75" stroke="#000000" stroke-width="2.5" stroke-dasharray="8.1 5.8"/>
<text x="188.1" y="177.15" font-size="15.6">a=6</text>
<line x1="159.05" y1="190.35" x2="178" y2="190.35" stroke="#0000ff" stroke-width="2.5" stroke-dasharray="14.2 11"/>
<text x="188.1" y="195.75" font-size="15.6">a=8</text>
<line x1="159.05" y1="208.95" x2="178" y2="208.95" stroke="#00ff00" stroke-width="2.5" stroke-dasharray="7.1 2.1 7.1 10"/>
<text x="188.1" y="214.35" font-size="15.6">a=10</text>
</svg>
</body></html>
